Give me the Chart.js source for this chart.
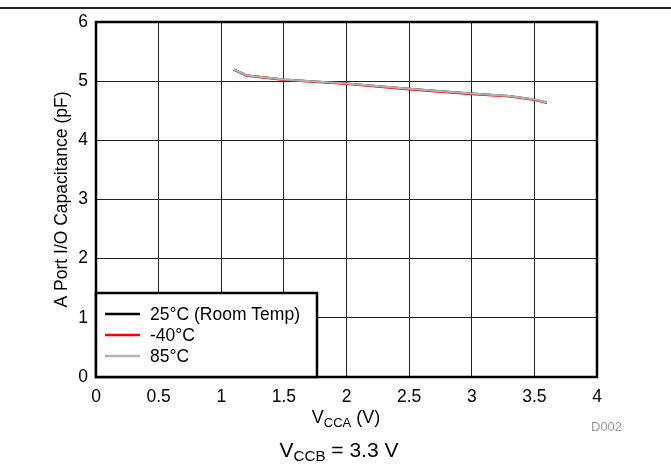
<!DOCTYPE html>
<html>
<head>
<meta charset="utf-8">
<script src="https://cdn.jsdelivr.net/npm/chart.js@4.4.1/dist/chart.umd.min.js"></script>
<style>
    body { margin: 0; background: #fff; font-family: "Liberation Sans", Arial, sans-serif; }
    #wrap { position: relative; width: 671px; height: 466px; }
    #topRule { position: absolute; left: 0; top: 7px; width: 671px; height: 0; border-top: 2px solid #222; }
    .lbl { position: absolute; white-space: nowrap; line-height: 1; color: #000; }
    .lbl sub { font-size: 0.72em; vertical-align: -0.28em; line-height: 0; }
    #xTitle { top: 408px; left: 346px; transform: translateX(-50%); font-size: 18px; }
    #cond { top: 439px; left: 339px; transform: translateX(-50%); font-size: 21px; }
    #figId { top: 420px; left: 591px; font-size: 13px; color: #999; }
</style>
</head>
<body>
<div id="wrap">
    <canvas id="capChart" width="671" height="466"></canvas>
    <div id="topRule"></div>
    <div class="lbl" id="xTitle">V<sub>CCA</sub> (V)</div>
    <div class="lbl" id="cond">V<sub>CCB</sub> = 3.3 V</div>
    <div class="lbl" id="figId">D002</div>
</div>

<script>
// values (VCCA in V, capacitance in pF)
const vcca     = [1.1, 1.2, 1.5, 2.0, 2.5, 3.0, 3.3, 3.5, 3.6];
const cap25C   = [5.2, 5.1, 5.03, 4.96, 4.87, 4.79, 4.75, 4.69, 4.64];
const capM40C  = [5.19, 5.09, 5.02, 4.95, 4.86, 4.78, 4.74, 4.68, 4.63];
const cap85C   = [5.2, 5.1, 5.03, 4.96, 4.87, 4.79, 4.75, 4.69, 4.64];
const seriesLabels = ['25°C (Room Temp)', '-40°C', '85°C'];
const seriesColors = ['#000000', '#ff0000', '#b3b3b3'];
const xTicks = [0, 0.5, 1, 1.5, 2, 2.5, 3, 3.5, 4];
const yTicks = [0, 1, 2, 3, 4, 5, 6];

const FONT = '"Liberation Sans", Arial, sans-serif';
Chart.defaults.font.family = FONT;
Chart.defaults.color = '#000';

function toPoints(ys) {
    return vcca.map((x, i) => ({ x: x, y: ys[i] }));
}

// thick frame round the plot area
const framePlugin = {
    id: 'frame',
    afterDatasetsDraw(chart) {
        const { ctx, chartArea: a } = chart;
        ctx.save();
        ctx.strokeStyle = '#000';
        ctx.lineWidth = 2.5;
        ctx.strokeRect(a.left, a.top, a.right - a.left, a.bottom - a.top);
        ctx.restore();
    }
};

// boxed legend in the lower-left corner of the plot
const boxLegend = {
    id: 'boxLegend',
    afterDatasetsDraw(chart) {
        const { ctx, chartArea: a } = chart;
        const left = a.left, bottom = a.bottom;
        const w = 221, h = 84;
        ctx.save();
        ctx.fillStyle = '#fff';
        ctx.fillRect(left, bottom - h, w, h);
        ctx.strokeStyle = '#000';
        ctx.lineWidth = 2.5;
        ctx.strokeRect(left, bottom - h, w, h);
        ctx.font = '17.5px ' + FONT;
        ctx.textBaseline = 'middle';
        ctx.fillStyle = '#000';
        chart.data.datasets.forEach((ds, i) => {
            const y = bottom - h + 21 + i * 21;
            ctx.strokeStyle = ds.borderColor;
            ctx.lineWidth = 2.5;
            ctx.beginPath();
            ctx.moveTo(left + 9, y);
            ctx.lineTo(left + 44, y);
            ctx.stroke();
            ctx.fillText(ds.label, left + 54, y + 1);
        });
        ctx.restore();
    }
};

const ctx = document.getElementById('capChart').getContext('2d');
const capChart = new Chart(ctx, {
    type: 'line',
    data: {
        datasets: [
            { label: seriesLabels[0], data: toPoints(cap25C), borderColor: seriesColors[0], order: 2 },
            { label: seriesLabels[1], data: toPoints(capM40C), borderColor: seriesColors[1], order: 1 },
            { label: seriesLabels[2], data: toPoints(cap85C), borderColor: seriesColors[2], order: 0 }
        ].map(d => Object.assign(d, { borderWidth: 2, pointRadius: 0, tension: 0, fill: false }))
    },
    options: {
        responsive: false,
        animation: false,
        layout: { padding: { left: 0, right: 74, top: 22, bottom: 0 } },
        plugins: {
            legend: { display: false },
            tooltip: { enabled: false }
        },
        scales: {
            x: {
                type: 'linear',
                min: xTicks[0],
                max: xTicks[xTicks.length - 1],
                afterBuildTicks: s => { s.ticks = xTicks.map(v => ({ value: v })); },
                afterFit: s => { s.height = 89; },
                ticks: {
                    font: { size: 17.5 },
                    padding: 10,
                    maxRotation: 0,
                    callback: v => String(v)
                },
                grid: { color: '#222', lineWidth: 1, drawTicks: false },
                border: { display: false }
            },
            y: {
                type: 'linear',
                min: yTicks[0],
                max: yTicks[yTicks.length - 1],
                afterBuildTicks: s => { s.ticks = yTicks.map(v => ({ value: v })); },
                afterFit: s => { s.width = 96; },
                ticks: { font: { size: 17.5 }, padding: 8, callback: v => String(v) },
                grid: { color: '#222', lineWidth: 1, drawTicks: false },
                border: { display: false },
                title: {
                    display: true,
                    text: 'A Port I/O Capacitance (pF)',
                    font: { size: 17.5 },
                    padding: { top: 52, bottom: 0 }
                }
            }
        }
    },
    plugins: [framePlugin, boxLegend]
});
</script>
</body>
</html>
